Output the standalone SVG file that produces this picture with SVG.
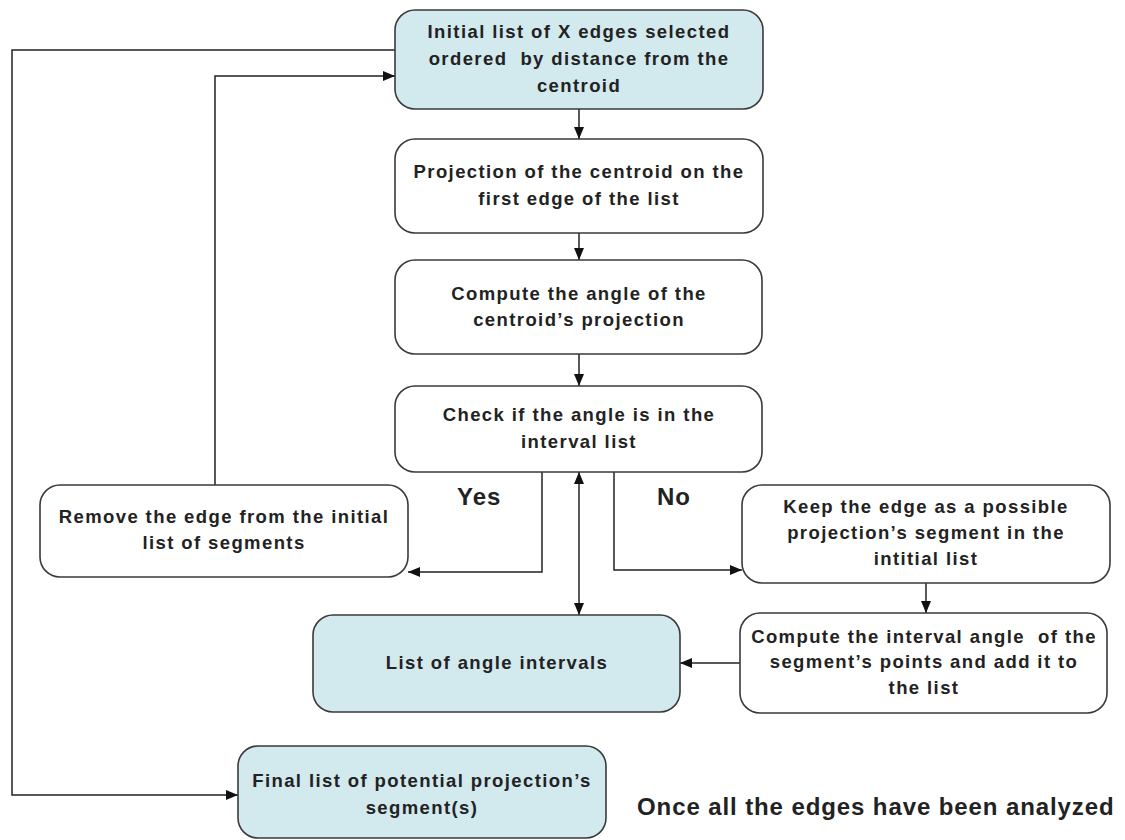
<svg xmlns="http://www.w3.org/2000/svg" width="1125" height="840" viewBox="0 0 1125 840">
  <style>
    .box { fill: #ffffff; stroke: #3a3a3a; stroke-width: 1.6; }
    .blue { fill: #d2e9ee; }
    .lbl { font-family: "Liberation Sans", Arial, sans-serif; font-weight: bold; font-size: 18.5px; letter-spacing: 1.4px; fill: #222; text-anchor: middle; }
    .pre { white-space: pre; }
    .big { font-family: "Liberation Sans", Arial, sans-serif; font-weight: bold; font-size: 24px; letter-spacing: 1px; fill: #222; }
    .wire { fill: none; stroke: #222; stroke-width: 1.5; }
  </style>
  <defs>
    <marker id="arrow" viewBox="0 0 12 10" refX="12" refY="5" markerWidth="12" markerHeight="10" markerUnits="userSpaceOnUse" orient="auto-start-reverse">
      <path d="M0,0 L12,5 L0,10 z" fill="#111"/>
    </marker>
  </defs>
  <rect width="1125" height="840" fill="#ffffff"/>

  <g id="connectors">
    <!-- main column -->
    <line class="wire" x1="579" y1="109" x2="579" y2="139" marker-end="url(#arrow)"/>
    <line class="wire" x1="579" y1="233" x2="579" y2="260" marker-end="url(#arrow)"/>
    <line class="wire" x1="579" y1="354" x2="579" y2="386" marker-end="url(#arrow)"/>
    <!-- yes branch -->
    <polyline class="wire" points="542,472 542,572 408,572" marker-end="url(#arrow)"/>
    <!-- no branch -->
    <polyline class="wire" points="614,472 614,570 742,570" marker-end="url(#arrow)"/>
    <!-- check <-> interval list -->
    <line class="wire" x1="579" y1="472" x2="579" y2="615" marker-start="url(#arrow)" marker-end="url(#arrow)"/>
    <!-- keep -> compute interval -->
    <line class="wire" x1="926" y1="583" x2="926" y2="613" marker-end="url(#arrow)"/>
    <!-- compute interval -> list of angle intervals -->
    <line class="wire" x1="740" y1="663" x2="680" y2="663" marker-end="url(#arrow)"/>
    <!-- remove -> back to initial list -->
    <polyline class="wire" points="215,485 215,76 395,76" marker-end="url(#arrow)"/>
    <!-- initial list -> final list -->
    <polyline class="wire" points="395,50 12,50 12,795 238,795" marker-end="url(#arrow)"/>
  </g>

  <g id="initial-list">
    <rect class="box blue" x="395" y="10" width="368" height="99" rx="20"/>
    <text class="lbl" x="579" y="38">Initial list of X edges selected</text>
    <text class="lbl pre" x="579" y="65" xml:space="preserve">ordered  by distance from the</text>
    <text class="lbl" x="579" y="92">centroid</text>
  </g>

  <g id="projection">
    <rect class="box" x="395" y="139" width="368" height="94" rx="20"/>
    <text class="lbl" x="579" y="178">Projection of the centroid on the</text>
    <text class="lbl" x="579" y="205">first edge of the list</text>
  </g>

  <g id="compute-angle">
    <rect class="box" x="395" y="260" width="367" height="94" rx="20"/>
    <text class="lbl" x="579" y="300">Compute the angle of the</text>
    <text class="lbl" x="579" y="326">centroid’s projection</text>
  </g>

  <g id="check-angle">
    <rect class="box" x="395" y="386" width="367" height="86" rx="20"/>
    <text class="lbl" x="579" y="421">Check if the angle is in the</text>
    <text class="lbl" x="579" y="448">interval list</text>
  </g>

  <g id="remove-edge">
    <rect class="box" x="40" y="485" width="368" height="92" rx="20"/>
    <text class="lbl" x="224" y="523">Remove the edge from the initial</text>
    <text class="lbl" x="224" y="549">list of segments</text>
  </g>

  <g id="keep-edge">
    <rect class="box" x="742" y="485" width="368" height="98" rx="20"/>
    <text class="lbl" x="926" y="513">Keep the edge as a possible</text>
    <text class="lbl" x="926" y="539">projection’s segment in the</text>
    <text class="lbl" x="926" y="565">intitial list</text>
  </g>

  <g id="compute-interval">
    <rect class="box" x="740" y="613" width="367" height="100" rx="20"/>
    <text class="lbl pre" x="924" y="643" xml:space="preserve">Compute the interval angle  of the</text>
    <text class="lbl" x="924" y="668">segment’s points and add it to</text>
    <text class="lbl" x="924" y="694">the list</text>
  </g>

  <g id="angle-intervals">
    <rect class="box blue" x="313" y="615" width="367" height="97" rx="20"/>
    <text class="lbl" x="497" y="669">List of angle intervals</text>
  </g>

  <g id="final-list">
    <rect class="box blue" x="238" y="746" width="368" height="92" rx="20"/>
    <text class="lbl" x="422" y="787">Final list of potential projection’s</text>
    <text class="lbl" x="422" y="814">segment(s)</text>
  </g>

  <g id="labels">
    <text class="big" x="457" y="505">Yes</text>
    <text class="big" x="657" y="505">No</text>
    <text class="big" x="637" y="815" style="letter-spacing:0.9px">Once all the edges have been analyzed</text>
  </g>
</svg>
